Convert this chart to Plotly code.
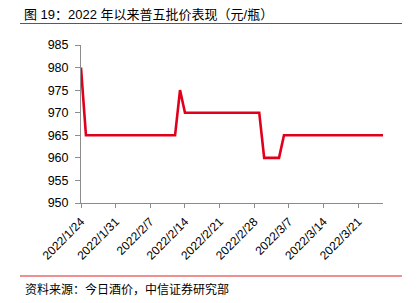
import plotly.graph_objects as go

dates = ["2022-01-24", "2022-01-25", "2022-02-12", "2022-02-13", "2022-02-14",
         "2022-03-01", "2022-03-02", "2022-03-05", "2022-03-06", "2022-03-26"]
prices = [980, 965, 965, 975, 970, 970, 960, 960, 965, 965]

tick_vals = ["2022-01-24", "2022-01-31", "2022-02-07", "2022-02-14", "2022-02-21",
             "2022-02-28", "2022-03-07", "2022-03-14", "2022-03-21"]
tick_text = ["2022/1/24", "2022/1/31", "2022/2/7", "2022/2/14", "2022/2/21",
             "2022/2/28", "2022/3/7", "2022/3/14", "2022/3/21"]

title = "图 19：2022 年以来普五批价表现（元/瓶）"
source = "资料来源：今日酒价，中信证券研究部"

FONT = "Liberation Sans, Arial, Noto Sans CJK SC"

W, H = 417, 303
L, R, T, B = 81, 383, 45, 203

def px(x):
    return (x - L) / (R - L)

def py(y):
    return (B - y) / (B - T)

fig = go.Figure()
fig.add_trace(go.Scatter(x=dates, y=prices, mode="lines",
                         line=dict(color="#e0001b", width=2.6), hoverinfo="skip"))

fig.update_layout(
    width=W, height=H,
    margin=dict(l=L, r=W - R, t=T, b=H - B, pad=0),
    paper_bgcolor="white", plot_bgcolor="white",
    showlegend=False,
    font=dict(family=FONT, color="#000000", size=12),
    xaxis=dict(
        type="date", range=["2022-01-24", "2022-03-26"],
        tickmode="array", tickvals=tick_vals, ticktext=tick_text,
        tickangle=-45, tickfont=dict(size=12, family=FONT, color="#000"),
        ticklabelstandoff=2,
        showgrid=False, zeroline=False,
        showline=True, linecolor="#8c8c8c", linewidth=1,
        ticks="outside", ticklen=4, tickcolor="#8c8c8c",
    ),
    yaxis=dict(
        range=[950, 985], dtick=5, tick0=950,
        tickfont=dict(size=12.5, family=FONT, color="#000"),
        ticklabelstandoff=4,
        showgrid=False, zeroline=False,
        showline=True, linecolor="#8c8c8c", linewidth=1,
        ticks="outside", ticklen=5, tickcolor="#8c8c8c",
    ),
    shapes=[
        dict(type="line", xref="paper", yref="paper", x0=px(20), x1=px(402),
             y0=py(23.5), y1=py(23.5), line=dict(color="#e02020", width=1)),
        dict(type="line", xref="paper", yref="paper", x0=px(20), x1=px(402),
             y0=py(276), y1=py(276), line=dict(color="#e02020", width=1)),
    ],
    annotations=[
        dict(text=title, xref="paper", yref="paper", x=px(22), y=py(14),
             xanchor="left", yanchor="middle", showarrow=False,
             font=dict(size=13, family=FONT, color="#000")),
        dict(text=source, xref="paper", yref="paper", x=px(23), y=py(289),
             xanchor="left", yanchor="middle", showarrow=False,
             font=dict(size=12, family=FONT, color="#000")),
    ],
)

fig.write_html("out.html")
